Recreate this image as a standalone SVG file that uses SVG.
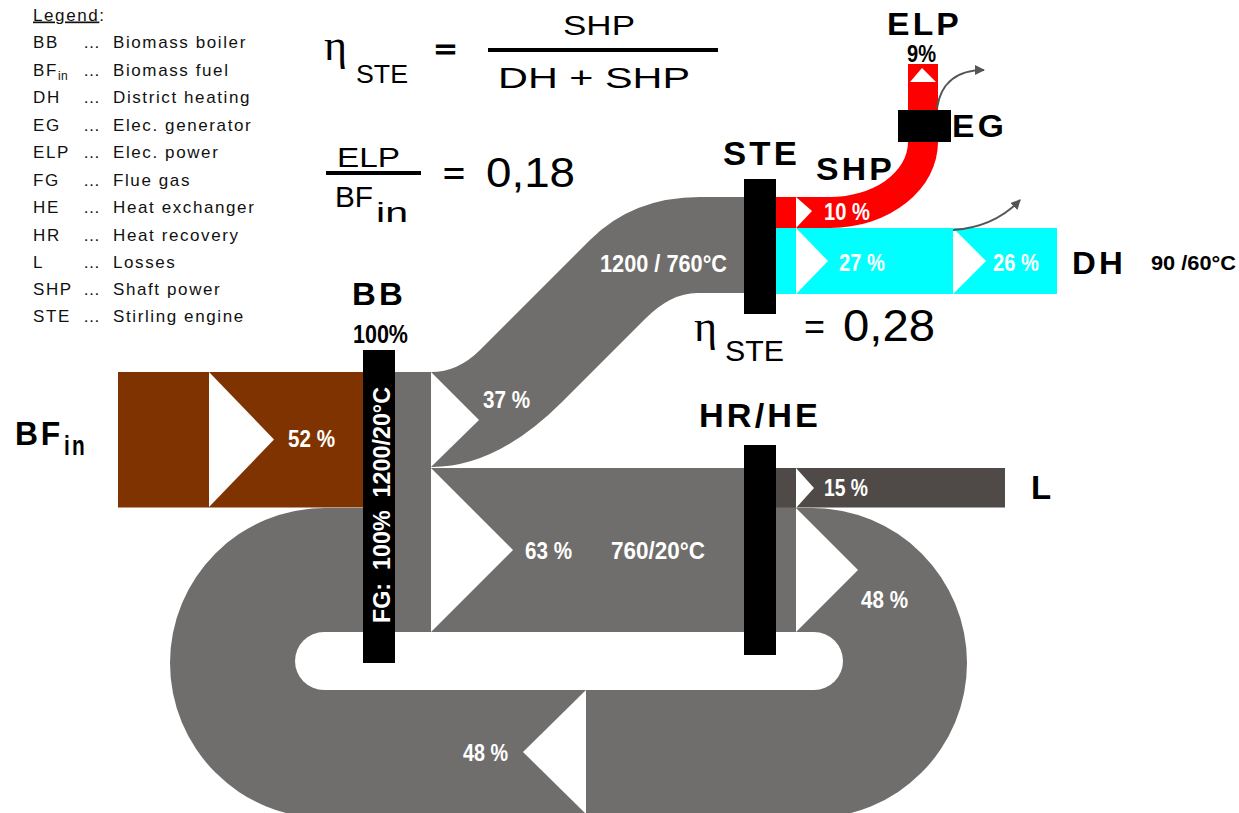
<svg xmlns="http://www.w3.org/2000/svg" width="1239" height="813" viewBox="0 0 1239 813">
<style>
.lg{font-family:"Liberation Sans",Arial,sans-serif;font-size:17px;letter-spacing:1.6px;fill:#111}
.fm{font-family:"Liberation Sans",Arial,sans-serif;fill:#000}
.eta{font-family:"Liberation Serif","DejaVu Serif",serif;fill:#000}
.big{font-family:"Liberation Sans",Arial,sans-serif;font-weight:bold;fill:#000;letter-spacing:3px}
.pc{font-family:"Liberation Sans Narrow","Liberation Sans",Arial,sans-serif;font-weight:bold;fill:#fff;font-size:23px}
.pk{font-family:"Liberation Sans Narrow","Liberation Sans",Arial,sans-serif;font-weight:bold;fill:#000}
.g{fill:#706e6c}
.w{fill:#fff}
.bar{fill:#000}
.arr{fill:none;stroke:#555;stroke-width:2}
</style>
<defs>
<marker id="ah" markerUnits="userSpaceOnUse" markerWidth="10" markerHeight="10" refX="9" refY="5" orient="auto" viewBox="0 0 10 10">
<path d="M0,0 L10,5 L0,10 z" fill="#555"/>
</marker>
</defs>
<rect width="1239" height="813" fill="#fff"/>

<g id="legend">
<text class="lg" x="33" y="20.5"><tspan text-decoration="underline">Legend</tspan>:</text>
<text class="lg" x="33" y="48">BB</text><text class="lg" x="83" y="48">…</text><text class="lg" x="113" y="48">Biomass boiler</text>
<text class="lg" x="33" y="75.5">BF<tspan font-size="12" dy="4" letter-spacing="0.5">in</tspan></text><text class="lg" x="83" y="75.5">…</text><text class="lg" x="113" y="75.5">Biomass fuel</text>
<text class="lg" x="33" y="103">DH</text><text class="lg" x="83" y="103">…</text><text class="lg" x="113" y="103">District heating</text>
<text class="lg" x="33" y="130.5">EG</text><text class="lg" x="83" y="130.5">…</text><text class="lg" x="113" y="130.5">Elec. generator</text>
<text class="lg" x="33" y="158">ELP</text><text class="lg" x="83" y="158">…</text><text class="lg" x="113" y="158">Elec. power</text>
<text class="lg" x="33" y="185.5">FG</text><text class="lg" x="83" y="185.5">…</text><text class="lg" x="113" y="185.5">Flue gas</text>
<text class="lg" x="33" y="213">HE</text><text class="lg" x="83" y="213">…</text><text class="lg" x="113" y="213">Heat exchanger</text>
<text class="lg" x="33" y="240.5">HR</text><text class="lg" x="83" y="240.5">…</text><text class="lg" x="113" y="240.5">Heat recovery</text>
<text class="lg" x="33" y="268">L</text><text class="lg" x="83" y="268">…</text><text class="lg" x="113" y="268">Losses</text>
<text class="lg" x="33" y="295">SHP</text><text class="lg" x="83" y="295">…</text><text class="lg" x="113" y="295">Shaft power</text>
<text class="lg" x="33" y="322">STE</text><text class="lg" x="83" y="322">…</text><text class="lg" x="113" y="322">Stirling engine</text>
</g>

<g id="formula-eta">
<text class="eta" x="324" y="60" font-size="44">η</text>
<text class="fm" x="356" y="83" font-size="25" textLength="52" lengthAdjust="spacingAndGlyphs">STE</text>
<text class="fm" x="435" y="58" font-size="24" font-weight="bold" stroke="#000" stroke-width="0.8" textLength="21" lengthAdjust="spacingAndGlyphs">=</text>
<rect x="488" y="48" width="230" height="4" fill="#000"/>
<text class="fm" x="563" y="35" font-size="28" textLength="72" lengthAdjust="spacingAndGlyphs">SHP</text>
<text class="fm" x="498" y="88" font-size="29" textLength="192" lengthAdjust="spacingAndGlyphs">DH + SHP</text>
</g>

<g id="formula-elp">
<rect x="326" y="171" width="95" height="4" fill="#000"/>
<text class="fm" x="337" y="167" font-size="28" textLength="63" lengthAdjust="spacingAndGlyphs">ELP</text>
<text class="fm" x="335" y="207" font-size="29" textLength="38" lengthAdjust="spacingAndGlyphs">BF</text>
<text class="fm" x="376" y="222" font-size="28" textLength="32" lengthAdjust="spacingAndGlyphs">in</text>
<text class="fm" x="443" y="183" font-size="28" font-weight="bold" textLength="22" lengthAdjust="spacingAndGlyphs">=</text>
<text class="fm" x="486" y="187" font-size="42" textLength="89" lengthAdjust="spacingAndGlyphs">0,18</text>
</g>

<g id="formula-eta-value">
<text class="eta" x="694" y="341" font-size="44">η</text>
<text class="fm" x="725" y="361" font-size="29" textLength="59" lengthAdjust="spacingAndGlyphs">STE</text>
<text class="fm" x="804" y="339" font-size="36" textLength="21" lengthAdjust="spacingAndGlyphs">=</text>
<text class="fm" x="843" y="341" font-size="44" textLength="92" lengthAdjust="spacingAndGlyphs">0,28</text>
</g>

<g id="connectors">
<!-- recirculation loop 48% -->
<rect class="g" x="170" y="508" width="797" height="310" rx="155" ry="155"/>
<rect class="w" x="295" y="632" width="548" height="58" rx="29" ry="29"/>
<polygon class="w" points="586,690 523,752 586,814"/>
<!-- fuel 52% -->
<rect x="118" y="372" width="245" height="135.5" fill="#7f3300"/>
<polygon class="w" points="209,372 274,439.5 209,507"/>
<!-- boiler outlet section -->
<rect class="g" x="395" y="372" width="36" height="260"/>
<!-- 63% to HR/HE -->
<rect class="g" x="431" y="468" width="313" height="164"/>
<polygon class="w" points="431,468 513,550 431,632"/>
<!-- 37% to STE -->
<path class="g" d="M431,372 Q458,372 480,350 L590,240 Q633,197 700,197 L744,197 L744,293 L697,293 Q671,293 645,319 L562,402 Q497,467 432,467 L431,467 Z"/>
<polygon class="w" points="431,372 479,420 431,467"/>
<!-- HR/HE outlets -->
<rect class="g" x="776" y="468" width="20" height="164"/>
<rect x="776" y="468" width="229" height="39.5" fill="#4f4a48"/>
<polygon class="w" points="796,468 814,488 796,508"/>
<polygon class="w" points="796,508 858,570 796,632"/>
<!-- SHP / ELP -->
<path d="M776,197 L830,197 A78,55 0 0 0 908,142 L908,64 L938,64 L938,142 A108,86 0 0 1 830,228 L776,228 Z" fill="#ff0000"/>
<polygon class="w" points="796,197 812,211 796,228"/>
<polygon class="w" points="910,82 922,68 936,82"/>
<!-- DH -->
<rect x="776" y="228" width="281" height="66" fill="#00ffff"/>
<polygon class="w" points="796,228 828,261 796,294"/>
<polygon class="w" points="953,228 986,261 953,294"/>
<!-- loss arrows -->
<path class="arr" d="M937,108 C940,88 952,70 984,70" marker-end="url(#ah)"/>
<path class="arr" d="M953,230 C980,228 1003,218 1020,200" marker-end="url(#ah)"/>
</g>

<g id="flow-labels">
<text class="pc" x="288" y="447" textLength="47" lengthAdjust="spacingAndGlyphs">52 %</text>
<text class="pc" x="483" y="408" textLength="47" lengthAdjust="spacingAndGlyphs">37 %</text>
<text class="pc" x="525" y="559" textLength="47" lengthAdjust="spacingAndGlyphs">63 %</text>
<text class="pc" x="611" y="559" textLength="94" lengthAdjust="spacingAndGlyphs">760/20°C</text>
<text class="pc" x="600" y="272" textLength="127" lengthAdjust="spacingAndGlyphs">1200 / 760°C</text>
<text class="pc" x="861" y="608" textLength="47" lengthAdjust="spacingAndGlyphs">48 %</text>
<text class="pc" x="463" y="761" textLength="45" lengthAdjust="spacingAndGlyphs">48 %</text>
<text class="pc" x="824" y="496" font-size="22" textLength="44" lengthAdjust="spacingAndGlyphs">15 %</text>
<text class="pc" x="824" y="220" font-size="22" textLength="46" lengthAdjust="spacingAndGlyphs">10 %</text>
<text class="pc" x="839" y="271" textLength="46" lengthAdjust="spacingAndGlyphs">27 %</text>
<text class="pc" x="993" y="271" textLength="46" lengthAdjust="spacingAndGlyphs">26 %</text>
</g>

<g id="node-BFin">
<text class="big" x="15" y="445" font-size="34" textLength="48" lengthAdjust="spacingAndGlyphs">BF</text>
<text class="big" x="64" y="455" font-size="28" letter-spacing="0" textLength="23" lengthAdjust="spacingAndGlyphs">in</text>
</g>

<g id="node-BB">
<rect class="bar" x="363" y="350" width="32" height="313"/>
<text class="big" x="352" y="305" font-size="31" textLength="54" lengthAdjust="spacingAndGlyphs">BB</text>
<text class="pk" x="353" y="343" font-size="25" textLength="55" lengthAdjust="spacingAndGlyphs">100%</text>
<text class="pc" transform="translate(390,623) rotate(-90)" x="0" y="0" font-size="26" style="white-space:pre" textLength="236" lengthAdjust="spacingAndGlyphs">FG:  100%  1200/20°C</text>
</g>

<g id="node-STE">
<rect class="bar" x="744" y="179" width="32" height="135"/>
<text class="big" x="723" y="165" font-size="33" textLength="77" lengthAdjust="spacingAndGlyphs">STE</text>
</g>

<g id="node-HRHE">
<rect class="bar" x="744" y="445" width="32" height="210"/>
<text class="big" x="699" y="427" font-size="33" letter-spacing="1" textLength="122" lengthAdjust="spacingAndGlyphs">HR/HE</text>
</g>

<g id="node-EG">
<rect class="bar" x="898" y="110" width="53" height="32"/>
<text class="big" x="952" y="137" font-size="31" textLength="55" lengthAdjust="spacingAndGlyphs">EG</text>
</g>

<g id="node-SHP">
<text class="big" x="816" y="180" font-size="32" textLength="79" lengthAdjust="spacingAndGlyphs">SHP</text>
</g>

<g id="node-ELP">
<text class="big" x="887" y="35" font-size="32" textLength="75" lengthAdjust="spacingAndGlyphs">ELP</text>
<text class="pk" x="907" y="62" font-size="23" textLength="29" lengthAdjust="spacingAndGlyphs">9%</text>
</g>

<g id="node-DH">
<text class="big" x="1072" y="274" font-size="31" textLength="54" lengthAdjust="spacingAndGlyphs">DH</text>
<text class="pk" x="1151" y="270" font-size="21" textLength="85" lengthAdjust="spacingAndGlyphs">90 /60°C</text>
</g>

<g id="node-L">
<text class="big" x="1031" y="499" font-size="33">L</text>
</g>
</svg>
